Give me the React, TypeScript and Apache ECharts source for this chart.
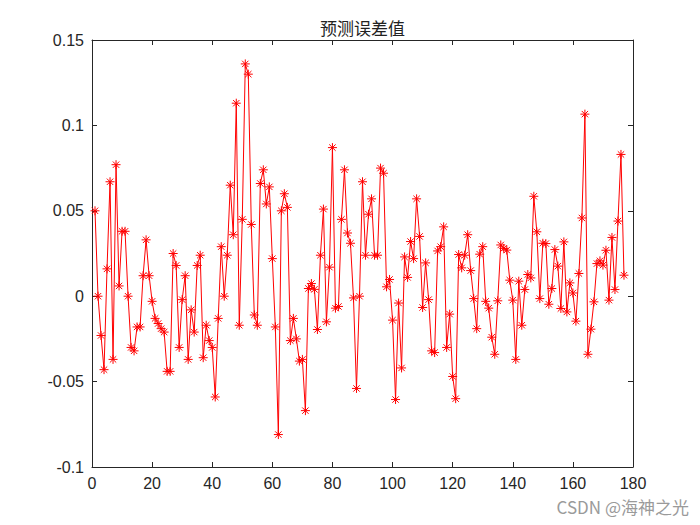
import React, { useEffect, useRef } from "react";
import * as echarts from "echarts";

const titleText = "预测误差值";
const watermark = "CSDN @海神之光";
const xTicks = { min: 0, max: 180, interval: 20 };
const yTicks = { min: -0.1, max: 0.15, interval: 0.05 };

// prediction errors, sample 1..177
const errors: number[] = [
  0.05, 0.0, -0.023, -0.043, 0.016, 0.067, -0.037, 0.077, 0.006, 0.038,
  0.038, 0.0, -0.03, -0.032, -0.018, -0.018, 0.012, 0.033, 0.012, -0.003,
  -0.013, -0.016, -0.019, -0.021, -0.044, -0.044, 0.025, 0.018, -0.03, -0.002,
  0.012, -0.037, -0.008, -0.021, 0.018, 0.024, -0.036, -0.017, -0.026, -0.03,
  -0.059, -0.013, 0.029, 0.0, 0.024, 0.065, 0.036, 0.113, -0.017, 0.045,
  0.136, 0.13, 0.042, -0.011, -0.017, 0.066, 0.074, 0.054, 0.064, 0.022,
  -0.018, -0.081, 0.05, 0.06, 0.052, -0.026, -0.013, -0.025, -0.038, -0.037,
  -0.067, 0.0045, 0.0074, 0.004, -0.0195, 0.024, 0.051, -0.015, 0.017, 0.087,
  -0.007, -0.006, 0.045, 0.074, 0.037, 0.031, -0.001, -0.054, 0.0, 0.067,
  0.024, 0.048, 0.057, 0.024, 0.024, 0.075, 0.072, 0.0055, 0.0098, -0.014,
  -0.0605, -0.004, -0.042, 0.023, 0.011, 0.032, 0.022, 0.057, 0.035, -0.0066,
  0.0195, -0.002, -0.032, -0.033, 0.0265, 0.029, 0.0406, -0.03, -0.0105, -0.047,
  -0.06, 0.0244, 0.0166, 0.024, 0.036, 0.015, -0.0014, -0.019, 0.0246, 0.029,
  -0.003, -0.007, -0.024, -0.034, -0.0027, 0.03, 0.028, 0.027, 0.0094, -0.0023,
  -0.037, 0.0088, -0.017, 0.0039, 0.0127, 0.0107, 0.0585, 0.0377, -0.0014, 0.031,
  0.0308, -0.0047, 0.0045, 0.0273, 0.0176, -0.0072, 0.0318, -0.0092, 0.0078, 0.0019,
  -0.0146, 0.0133, 0.0458, 0.1066, -0.034, -0.0193, -0.0033, 0.0191, 0.0207, 0.0182,
  0.0269, -0.0023, 0.0344, 0.0039, 0.044, 0.083, 0.0123,
];

const asterisk =
  "path://M0,-1L0,1M-1,0L1,0M-0.707,-0.707L0.707,0.707M-0.707,0.707L0.707,-0.707";

const axisColor = "#262626";
const labelFont = "'Liberation Sans', Arial, Helvetica, sans-serif";

export default function App() {
  const ref = useRef<HTMLDivElement>(null);

  useEffect(() => {
    if (!ref.current) return;
    const chart = echarts.init(ref.current, null, { renderer: "svg" });
    const data = errors.map((v, i) => [i + 1, v]);

    const fmtY = (v: number) => String(Number(v.toFixed(2)));

    const baseX = {
      type: "value" as const,
      min: xTicks.min,
      max: xTicks.max,
      interval: xTicks.interval,
      splitLine: { show: false },
      axisLine: { show: true, onZero: false, lineStyle: { color: axisColor, width: 1 } },
      axisTick: { show: true, inside: true, length: 5, lineStyle: { color: axisColor } },
    };
    const baseY = {
      type: "value" as const,
      min: yTicks.min,
      max: yTicks.max,
      interval: yTicks.interval,
      splitLine: { show: false },
      axisLine: { show: true, onZero: false, lineStyle: { color: axisColor, width: 1 } },
      axisTick: { show: true, inside: true, length: 5, lineStyle: { color: axisColor } },
    };

    chart.setOption({
      animation: false,
      backgroundColor: "#ffffff",
      grid: { left: 92, right: 67, top: 40, bottom: 58, containLabel: false },
      xAxis: [
        {
          ...baseX,
          position: "bottom",
          axisLabel: {
            show: true,
            color: axisColor,
            fontSize: 16,
            fontFamily: labelFont,
            margin: 8,
          },
        },
        { ...baseX, position: "top", axisLabel: { show: false } },
      ],
      yAxis: [
        {
          ...baseY,
          position: "left",
          axisLabel: {
            show: true,
            color: axisColor,
            fontSize: 16,
            fontFamily: labelFont,
            margin: 8,
            formatter: fmtY,
          },
        },
        { ...baseY, position: "right", axisLabel: { show: false } },
      ],
      graphic: [
        {
          type: "text",
          x: 362.5,
          y: 27,
          style: {
            text: titleText,
            fill: "#222",
            font: "normal 17px 'Noto Sans CJK SC', sans-serif",
            align: "center",
            verticalAlign: "middle",
          },
        },
        {
          type: "text",
          x: 689,
          y: 506,
          style: {
            text: watermark,
            fill: "#9a9a9a",
            font: "normal 17px 'Noto Sans CJK SC', sans-serif",
            align: "right",
            verticalAlign: "middle",
          },
        },
      ],
      series: [
        {
          type: "line",
          xAxisIndex: 0,
          yAxisIndex: 0,
          data,
          symbol: asterisk,
          symbolSize: 9,
          showAllSymbol: true,
          itemStyle: { color: "rgba(0,0,0,0)", borderColor: "#ff0000", borderWidth: 1 },
          lineStyle: { color: "#ff0000", width: 1 },
          emphasis: { disabled: true },
          silent: true,
        },
      ],
    });

    return () => chart.dispose();
  }, []);

  return (
    <div
      ref={ref}
      style={{ position: "fixed", left: 0, top: 0, width: 700, height: 525 }}
    />
  );
}
